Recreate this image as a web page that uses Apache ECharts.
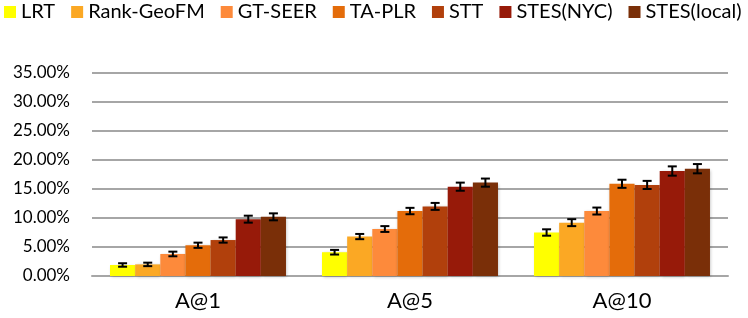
<!DOCTYPE html>
<html>
<head>
<meta charset="utf-8">
<script src="https://cdn.jsdelivr.net/npm/echarts@6/dist/echarts.min.js"></script>
<style>
  html, body { margin: 0; padding: 0; background: #fff; }
  #chart { width: 748px; height: 318px; }
</style>
</head>
<body>
<div id="chart"></div>
<script>
var categories = ['A@1', 'A@5', 'A@10'];
var methods = ['LRT', 'Rank-GeoFM', 'GT-SEER', 'TA-PLR', 'STT', 'STES(NYC)', 'STES(local)'];
var colors = ['#FFFF00', '#FBA824', '#FD8A3B', '#E46C0A', '#B1400C', '#971A09', '#7A2F08'];

// values in percent, one array per method (A@1, A@5, A@10)
var lrt = [1.9, 4.1, 7.5];
var rankGeoFM = [2.0, 6.8, 9.2];
var gtSeer = [3.8, 8.1, 11.2];
var taPlr = [5.3, 11.2, 15.9];
var stt = [6.2, 12.0, 15.7];
var stesNyc = [9.8, 15.4, 18.1];
var stesLocal = [10.2, 16.1, 18.5];
var values = [lrt, rankGeoFM, gtSeer, taPlr, stt, stesNyc, stesLocal];

// error bar half-widths, percent
var errLrt = [0.3, 0.4, 0.55];
var errRank = [0.3, 0.45, 0.6];
var errGt = [0.4, 0.5, 0.6];
var errTa = [0.45, 0.55, 0.7];
var errStt = [0.45, 0.6, 0.7];
var errNyc = [0.6, 0.7, 0.8];
var errLocal = [0.6, 0.7, 0.8];
var errors = [errLrt, errRank, errGt, errTa, errStt, errNyc, errLocal];

var yTicks = [0, 5, 10, 15, 20, 25, 30, 35];

var font = 'Lato, "Open Sans", sans-serif';
var catGap = 0.17;

var myChart = echarts.init(document.getElementById('chart'));

var series = [];
methods.forEach(function (name, i) {
    series.push({
        name: name,
        type: 'bar',
        data: values[i],
        barGap: '0%',
        barCategoryGap: (catGap * 100) + '%',
        itemStyle: {
            color: colors[i],
            shadowColor: 'rgba(0,0,0,0.25)',
            shadowBlur: 3,
            shadowOffsetX: 1,
            shadowOffsetY: 1
        }
    });
});

methods.forEach(function (name, i) {
    series.push({
        type: 'custom',
        z: 10,
        silent: true,
        data: values[i].map(function (v, k) { return [k, v, errors[i][k]]; }),
        renderItem: function (params, api) {
            var c = api.coord([api.value(0), api.value(1)]);
            var band = api.size([1, 0])[0];
            var bw = band * (1 - catGap) / methods.length;
            var x = c[0] - band * (1 - catGap) / 2 + bw * (i + 0.5);
            var hi = api.coord([api.value(0), api.value(1) + api.value(2)])[1];
            var lo = api.coord([api.value(0), api.value(1) - api.value(2)])[1];
            var cap = 4.5;
            var st = { stroke: '#000', lineWidth: 2 };
            return {
                type: 'group',
                children: [
                    { type: 'line', shape: { x1: x, y1: hi, x2: x, y2: lo }, style: st },
                    { type: 'line', shape: { x1: x - cap, y1: hi, x2: x + cap, y2: hi }, style: st },
                    { type: 'line', shape: { x1: x - cap, y1: lo, x2: x + cap, y2: lo }, style: st }
                ]
            };
        }
    });
});

var option = {
    animation: false,
    color: colors,
    legend: {
        data: methods,
        top: 2,
        left: 4,
        width: 744,
        padding: 0,
        itemWidth: 12,
        itemHeight: 12,
        itemGap: 16,
        icon: 'rect',
        textStyle: { fontFamily: font, fontSize: 20, color: '#000', padding: [0, 0, 0, 0] }
    },
    grid: {
        left: 92,
        right: 20,
        top: 73,
        bottom: 42
    },
    xAxis: {
        type: 'category',
        data: categories,
        axisTick: { show: false },
        axisLine: { lineStyle: { color: '#A6A6A6', width: 2 } },
        axisLabel: { fontFamily: font, fontSize: 22, color: '#000', margin: 14 }
    },
    yAxis: {
        type: 'value',
        min: yTicks[0],
        max: yTicks[yTicks.length - 1],
        interval: 5,
        axisLine: { show: false },
        axisTick: { show: false },
        splitLine: { lineStyle: { color: '#A6A6A6', width: 2 } },
        axisLabel: {
            fontFamily: font,
            fontSize: 17,
            color: '#000',
            margin: 22,
            formatter: function (v) { return v.toFixed(2) + '%'; }
        }
    },
    series: series
};

myChart.setOption(option);
</script>
</body>
</html>
